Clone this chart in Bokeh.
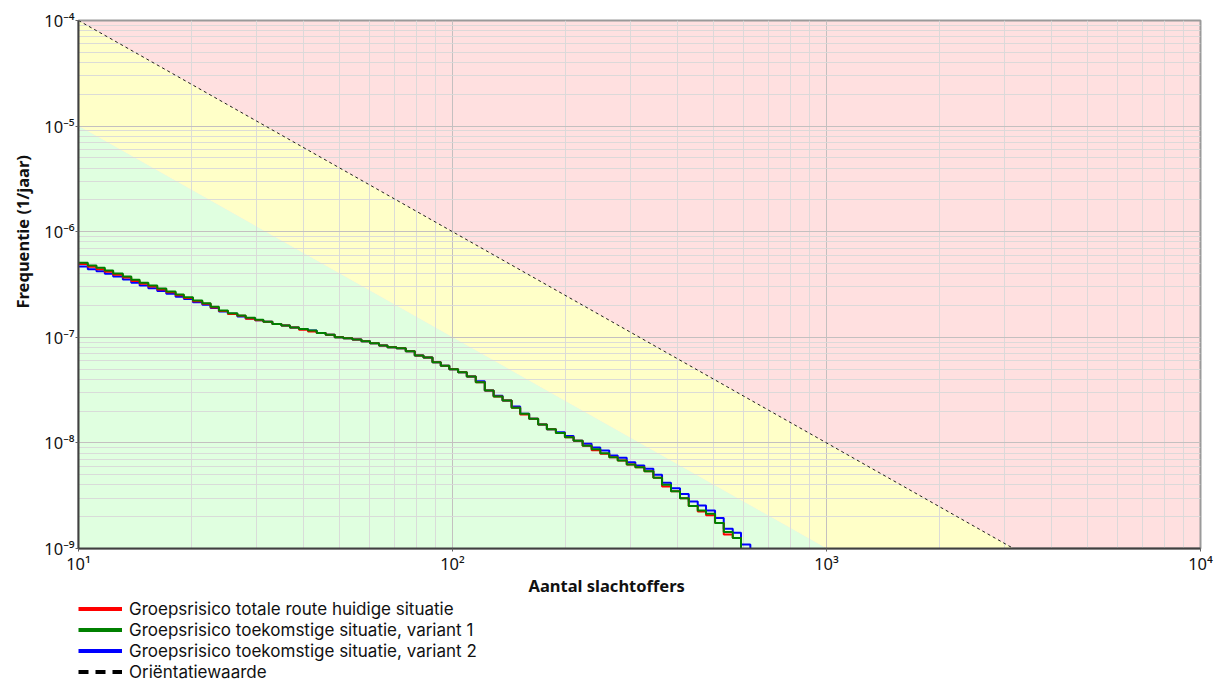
import math
from bokeh.plotting import figure
from bokeh.layouts import column
from bokeh.models import FixedTicker, Legend, LegendItem, Range1d, Title
from bokeh.embed import file_html
from bokeh.resources import INLINE

# ---------------- data ----------------
# step edges of the FN curves (Aantal slachtoffers)
N_edges = [10.00, 10.59, 11.17, 11.76, 12.38, 13.14, 13.84, 14.57, 15.37, 16.24,
           17.17, 18.18, 19.13, 20.23, 21.43, 22.56, 23.74, 25.09, 26.59, 27.99,
           29.67, 31.21, 32.99, 34.87, 36.76, 38.86, 41.08, 43.35, 45.81, 48.43,
           51.09, 54.01, 57.08, 60.19, 63.62, 67.00, 70.82, 74.99, 79.27, 83.64,
           88.40, 93.04, 98.05, 103.5, 109.2, 115.4, 122.0, 128.8, 136.1, 143.9,
           151.7, 160.3, 169.4, 178.8, 189.0, 199.8, 210.8, 222.8, 235.5, 248.4,
           262.5, 276.5, 292.3, 308.2, 325.8, 344.4, 363.3, 383.9, 405.8, 428.2,
           452.6, 476.3, 503.5, 531.2, 561.5, 590.8, 625.7]

# Groepsrisico totale route huidige situatie (red)
F_huidig = [4.94e-7, 4.65e-7, 4.42e-7, 4.17e-7, 3.91e-7, 3.69e-7, 3.42e-7, 3.21e-7, 3.02e-7, 2.84e-7,
            2.67e-7, 2.50e-7, 2.36e-7, 2.19e-7, 2.08e-7, 1.92e-7, 1.77e-7, 1.665e-7, 1.60e-7, 1.50e-7,
            1.45e-7, 1.40e-7, 1.34e-7, 1.29e-7, 1.24e-7, 1.177e-7, 1.135e-7, 1.10e-7, 1.06e-7, 1.00e-7,
            9.80e-8, 9.53e-8, 9.19e-8, 8.79e-8, 8.36e-8, 8.06e-8, 7.88e-8, 7.39e-8, 6.73e-8, 6.44e-8,
            5.81e-8, 5.37e-8, 4.99e-8, 4.67e-8, 4.25e-8, 3.76e-8, 3.13e-8, 2.75e-8, 2.52e-8, 2.15e-8,
            1.86e-8, 1.69e-8, 1.49e-8, 1.35e-8, 1.24e-8, 1.13e-8, 1.05e-8, 9.39e-9, 8.52e-9, 7.89e-9,
            7.32e-9, 6.81e-9, 6.24e-9, 5.89e-9, 5.40e-9, 4.67e-9, 3.86e-9, 3.49e-9, 2.99e-9, 2.52e-9,
            2.24e-9, 2.07e-9, 1.74e-9, 1.356e-9, 1.26e-9]

# Groepsrisico toekomstige situatie, variant 1 (green)
F_variant1 = [5.08e-7, 4.79e-7, 4.55e-7, 4.29e-7, 4.02e-7, 3.77e-7, 3.50e-7, 3.28e-7, 3.09e-7, 2.90e-7,
              2.72e-7, 2.54e-7, 2.40e-7, 2.23e-7, 2.10e-7, 1.95e-7, 1.79e-7, 1.69e-7, 1.61e-7, 1.53e-7,
              1.47e-7, 1.40e-7, 1.34e-7, 1.29e-7, 1.24e-7, 1.20e-7, 1.16e-7, 1.10e-7, 1.06e-7, 1.00e-7,
              9.80e-8, 9.53e-8, 9.19e-8, 8.79e-8, 8.36e-8, 8.06e-8, 7.88e-8, 7.39e-8, 6.73e-8, 6.44e-8,
              5.81e-8, 5.37e-8, 4.99e-8, 4.67e-8, 4.25e-8, 3.76e-8, 3.13e-8, 2.75e-8, 2.52e-8, 2.15e-8,
              1.89e-8, 1.69e-8, 1.49e-8, 1.35e-8, 1.24e-8, 1.13e-8, 1.05e-8, 9.39e-9, 8.71e-9, 7.99e-9,
              7.32e-9, 6.81e-9, 6.24e-9, 5.89e-9, 5.40e-9, 4.67e-9, 4.01e-9, 3.49e-9, 2.99e-9, 2.52e-9,
              2.29e-9, 2.13e-9, 1.74e-9, 1.43e-9, 1.26e-9]

# Groepsrisico toekomstige situatie, variant 2 (blue)
F_variant2 = [4.69e-7, 4.42e-7, 4.22e-7, 3.99e-7, 3.77e-7, 3.53e-7, 3.28e-7, 3.09e-7, 2.91e-7, 2.75e-7,
              2.58e-7, 2.42e-7, 2.30e-7, 2.15e-7, 2.03e-7, 1.89e-7, 1.755e-7, 1.67e-7, 1.57e-7, 1.51e-7,
              1.45e-7, 1.40e-7, 1.34e-7, 1.29e-7, 1.24e-7, 1.20e-7, 1.16e-7, 1.10e-7, 1.06e-7, 1.00e-7,
              9.80e-8, 9.53e-8, 9.19e-8, 8.79e-8, 8.36e-8, 8.06e-8, 7.88e-8, 7.39e-8, 6.73e-8, 6.44e-8,
              5.81e-8, 5.37e-8, 4.99e-8, 4.67e-8, 4.25e-8, 3.84e-8, 3.13e-8, 2.79e-8, 2.52e-8, 2.21e-8,
              1.89e-8, 1.69e-8, 1.49e-8, 1.35e-8, 1.26e-8, 1.16e-8, 1.05e-8, 9.81e-9, 9.04e-9, 8.48e-9,
              7.60e-9, 7.23e-9, 6.56e-9, 6.11e-9, 5.68e-9, 4.99e-9, 4.19e-9, 3.73e-9, 3.29e-9, 2.79e-9,
              2.55e-9, 2.29e-9, 1.94e-9, 1.54e-9, 1.41e-9, 1.09e-9]

series_labels = ["Groepsrisico totale route huidige situatie",
                 "Groepsrisico toekomstige situatie, variant 1",
                 "Groepsrisico toekomstige situatie, variant 2",
                 "Oriëntatiewaarde"]

# orientatiewaarde: F = C / N^2
orient_C = 1e-2
zone_factor = 10.0

x_ticks = [1e1, 1e2, 1e3, 1e4]
x_tick_labels = ["10¹", "10²", "10³", "10⁴"]
y_ticks = [1e-9, 1e-8, 1e-7, 1e-6, 1e-5, 1e-4]
y_tick_labels = ["10⁻⁹", "10⁻⁸", "10⁻⁷", "10⁻⁶", "10⁻⁵", "10⁻⁴"]

x_label = "Aantal slachtoffers"
y_label = "Frequentie (1/jaar)"

# ---------------- figure ----------------
FONT = "Noto Sans"
LFONT = "Inter"
x_lo, x_hi = x_ticks[0], x_ticks[-1]
y_lo, y_hi = y_ticks[0], y_ticks[-1]

p = figure(width=1215, height=598, x_axis_type="log", y_axis_type="log",
           x_range=Range1d(x_lo, x_hi), y_range=Range1d(y_lo, y_hi),
           output_backend="svg", toolbar_location=None,
           min_border_left=78, min_border_right=15, min_border_top=20, min_border_bottom=50)

p.background_fill_color = "#FFE0E0"
p.border_fill_color = "white"
p.outline_line_color = "#9a9a9a"
p.outline_line_width = 2

# zones
def n_at(F, C):
    return math.sqrt(C / F)

C_green = orient_C / zone_factor
yel = p.patch([x_lo, n_at(y_lo, orient_C), n_at(y_lo, C_green), x_lo],
              [orient_C / x_lo**2, y_lo, y_lo, C_green / x_lo**2],
              fill_color="#FFFFC8", line_color=None)
yel.level = "image"
grn = p.patch([x_lo, n_at(y_lo, C_green), x_lo],
              [C_green / x_lo**2, y_lo, y_lo],
              fill_color="#E0FFE0", line_color=None)
grn.level = "image"

# orientation line
p.line([x_lo, n_at(y_lo, orient_C)], [orient_C / x_lo**2, y_lo],
       line_color="#202020", line_width=1, line_dash="3 3")

# FN curves
floor = y_lo / 10.0
def step_xy(F):
    return N_edges[:len(F) + 1], list(F) + [floor]

xb, yb = step_xy(F_variant2)
p.step(xb, yb, mode="after", line_color="#0000FF", line_width=2)
xr, yr = step_xy(F_huidig)
p.step(xr, yr, mode="after", line_color="#FF0000", line_width=2)
xg, yg = step_xy(F_variant1)
p.step(xg, yg, mode="after", line_color="#008000", line_width=2)

# axes
for ax, ticks, labels in ((p.xaxis, x_ticks, x_tick_labels), (p.yaxis, y_ticks, y_tick_labels)):
    minors = [m * t for t in ticks[:-1] for m in range(2, 10)]
    ax.ticker = FixedTicker(ticks=ticks, minor_ticks=minors)
    ax.major_label_overrides = dict(zip(ticks, labels))
    ax.major_label_text_font = FONT
    ax.major_label_text_font_size = "16.5px"
    ax.major_label_text_color = "#111111"
    ax.axis_line_color = "#404040"
    ax.axis_line_width = 2
    ax.major_tick_out = 3
    ax.major_tick_in = 0
    ax.major_tick_line_color = "#606060"
    ax.minor_tick_out = 0
    ax.minor_tick_in = 0
p.xaxis.major_label_standoff = 0
p.yaxis.major_label_standoff = 1

for g in (p.xgrid, p.ygrid):
    g.grid_line_color = "#c4c0c0"
    g.grid_line_width = 1
    g.minor_grid_line_color = "#d8d8d8"
    g.minor_grid_line_alpha = 0.9

# axis titles
p.add_layout(Title(text=x_label, align="left", offset=450, standoff=-12,
                   text_font=FONT, text_font_size="16.5px", text_font_style="bold",
                   text_color="#111111"), "below")
p.add_layout(Title(text=y_label, align="left", offset=240, standoff=15,
                   text_font=FONT, text_font_size="16.5px", text_font_style="bold",
                   text_color="#111111"), "left")

# ---------------- legend strip below the plot ----------------
lg = figure(width=1215, height=84, x_range=Range1d(0, 1), y_range=Range1d(0, 1),
            output_backend="svg", toolbar_location=None,
            min_border_left=67, min_border_right=15, min_border_top=0, min_border_bottom=0,
            outline_line_color=None)
lg.axis.visible = False
lg.grid.visible = False
lg.background_fill_color = "white"
lg.border_fill_color = "white"
r1 = lg.line([5, 6], [5, 6], line_color="#FF0000", line_width=4)
r2 = lg.line([5, 6], [5, 6], line_color="#008000", line_width=4)
r3 = lg.line([5, 6], [5, 6], line_color="#0000FF", line_width=4)
r4 = lg.line([5, 6], [5, 6], line_color="black", line_width=4, line_dash="10 7")
legend = Legend(items=[LegendItem(label=series_labels[0], renderers=[r1]),
                       LegendItem(label=series_labels[1], renderers=[r2]),
                       LegendItem(label=series_labels[2], renderers=[r3]),
                       LegendItem(label=series_labels[3], renderers=[r4])],
                location="top_left", orientation="vertical",
                border_line_alpha=0, background_fill_alpha=0,
                label_text_font=LFONT, label_text_font_size="17px", label_text_color="#111111",
                glyph_width=44, glyph_height=21, label_height=21,
                spacing=0, padding=0, margin=0, label_standoff=7)
lg.add_layout(legend)

open("out.html", "w").write(file_html(column(p, lg, spacing=0), INLINE))
